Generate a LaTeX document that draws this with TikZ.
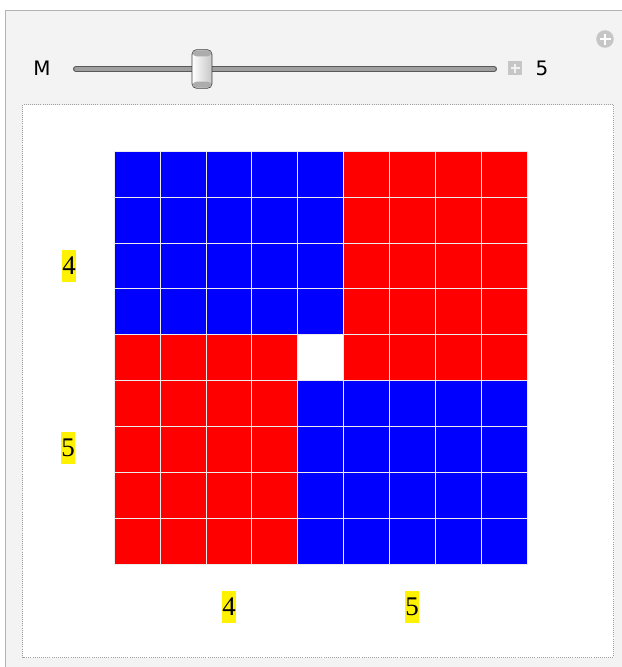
\documentclass[tikz,border=0pt]{standalone}
\usepackage{fontspec}
\setmainfont{Liberation Serif}
\newfontfamily\uifont{DejaVu Sans}
\usepackage{tikz}
\usetikzlibrary{positioning,calc}
\definecolor{panelgray}{HTML}{F3F3F3}
\definecolor{framegray}{HTML}{B4B4B4}
\definecolor{dashgray}{HTML}{A0A0A0}
\definecolor{cellblue}{HTML}{0000FF}
\definecolor{cellred}{HTML}{FF0000}
\tikzset{
  px/.style={x=0.03cm, y=-0.03cm},
  cell/.style={draw=white!85!gray, line width=0.5pt},
  axlabel/.style={fill=yellow, inner xsep=0.3pt, inner ysep=0pt, minimum height=26.5pt,
                  font=\fontsize{23}{23}\selectfont},
  uitext/.style={font=\uifont\fontsize{17}{17}\selectfont, inner sep=0pt},
}
\begin{document}
\begin{tikzpicture}[px]
\useasboundingbox (0,0) rectangle (622,667);
% panel
\fill[white] (0,0) rectangle (622,667);
\fill[panelgray] (5,10) rectangle (622,667);
\draw[framegray, line width=1.5pt] (5.5,667) -- (5.5,10.5) -- (622,10.5);
% slider
\node[uitext] (mlabel) at (42,68.5) {M};
\draw[line width=5.2pt, gray!70!black, line cap=round] (76,69) -- (494,69);
\draw[line width=3pt, gray!75, line cap=round] (76,69) -- (494,69);
\node[draw=black!75, rounded corners=4pt, minimum width=17pt, minimum height=33pt,
      inner sep=0pt, left color=white, right color=gray!45, line width=0.7pt] (thumb) at (202,69) {};
\fill[gray!65, rounded corners=3pt] ($(thumb.north west)+(1,1)$) rectangle ($(thumb.north east)+(-1,7)$);
\fill[gray!65, rounded corners=3pt] ($(thumb.south west)+(1,-1)$) rectangle ($(thumb.south east)+(-1,-7)$);
\node[fill=gray!45, minimum size=12pt, inner sep=0pt] (plusbox) at (515,68) {};
\draw[white!90!gray, line width=1.5pt] ($(plusbox)+(-4.5,0)$) -- ($(plusbox)+(4.5,0)$)
  ($(plusbox)+(0,-4.5)$) -- ($(plusbox)+(0,4.5)$);
\node[uitext, right=13 of plusbox] (mvalue) {5};
\node[circle, fill=gray!45, minimum size=15pt, inner sep=0pt] (addicon) at (605,39) {};
\draw[white, line width=2.4pt] ($(addicon)+(-5.5,0)$) -- ($(addicon)+(5.5,0)$)
  ($(addicon)+(0,-5.5)$) -- ($(addicon)+(0,5.5)$);
% output frame
\draw[dashgray, densely dotted, fill=white, line width=0.8pt] (22.5,104.5) rectangle (613.5,657.5);
% grid 9x9
\foreach \r in {0,...,8}{
  \foreach \c in {0,...,8}{
    \pgfmathsetmacro{\xa}{114+\c*45.9}
    \pgfmathsetmacro{\ya}{151+\r*45.9}
    \ifnum\r<4
      \ifnum\c<5 \def\cc{cellblue}\else\def\cc{cellred}\fi
    \else\ifnum\r=4
      \ifnum\c=4 \def\cc{white}\else\def\cc{cellred}\fi
    \else
      \ifnum\c<4 \def\cc{cellred}\else\def\cc{cellblue}\fi
    \fi\fi
    \filldraw[cell, fill=\cc] (\xa,\ya) rectangle ++(45.9,45.9);
  }
}
% labels
\node[axlabel] (rowa) at (69,266) {4};
\node[axlabel] (rowb) at (68,448) {5};
\node[axlabel] (cola) at (229,607) {4};
\node[axlabel] (colb) at (412,607) {5};
\end{tikzpicture}
\end{document}
